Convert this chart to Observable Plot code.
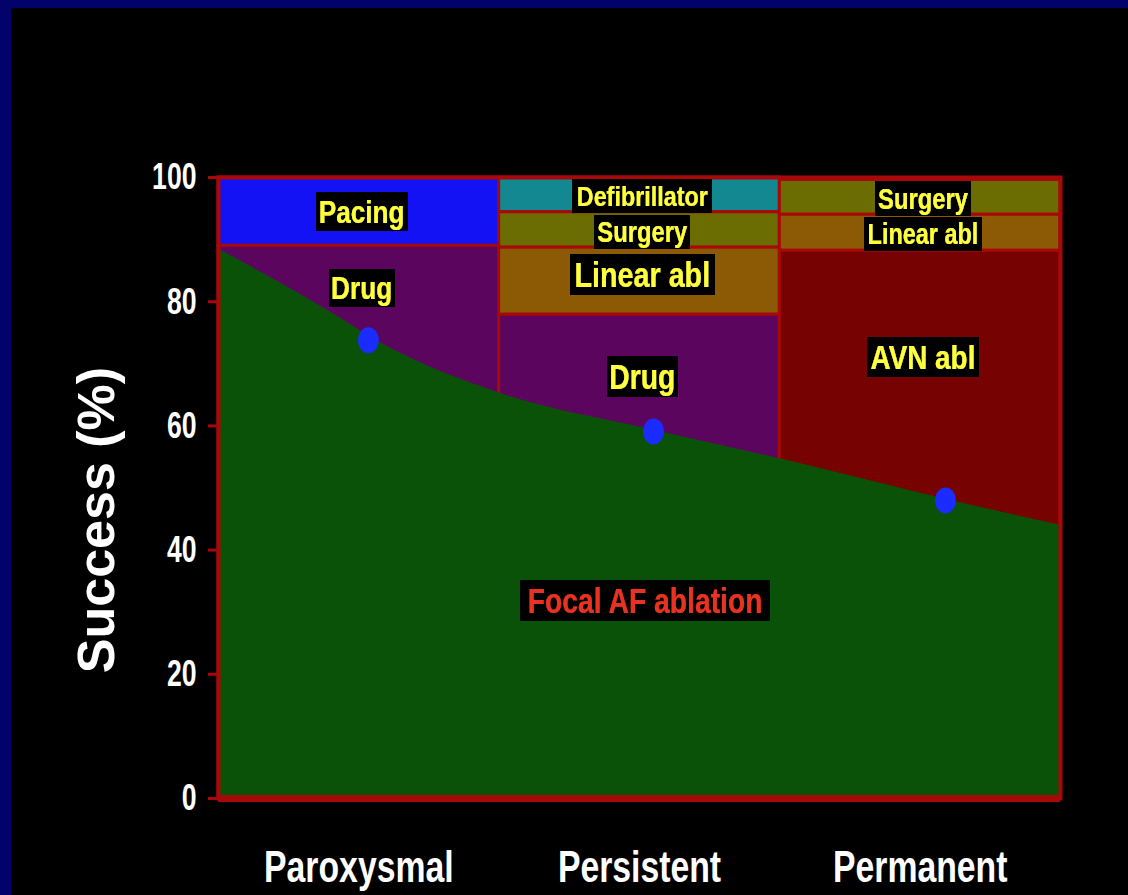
<!DOCTYPE html>
<html>
<head>
<meta charset="utf-8">
<script src="https://cdn.jsdelivr.net/npm/d3@7"></script>
<script src="https://cdn.jsdelivr.net/npm/@observablehq/plot@0.6"></script>
<style>
  html, body { margin: 0; padding: 0; background: #02026a; width: 1128px; height: 895px; overflow: hidden; }
  #chart { position: absolute; left: 11px; top: 8px; width: 1117px; height: 887px; background: #000; }
  #chart svg { display: block; }
</style>
</head>
<body>
<div id="chart"></div>
<script>
// ---- data ----
const categories = ["Paroxysmal", "Persistent", "Permanent"];
const yTicks = [0, 20, 40, 60, 80, 100];

// stacked treatment blocks (column, name, low %, high %)
const blockColumn = ["Paroxysmal", "Paroxysmal", "Persistent", "Persistent", "Persistent", "Persistent", "Permanent", "Permanent", "Permanent"];
const blockName   = ["Pacing", "Drug", "Defibrillator", "Surgery", "Linear abl", "Drug", "Surgery", "Linear abl", "AVN abl"];
const blockLow    = [89, 0, 94.4, 88.7, 77.9, 0, 94, 88.2, 0];
const blockHigh   = [100, 89, 100, 94.4, 88.7, 77.9, 99.6, 94, 88.2];

// focal AF ablation success curve (x in category units, y in %)
const curveX = [0, 0.4, 0.58, 1, 1.55, 2.02, 2.59, 3];
const curveY = [88.5, 78.3, 73.3, 65.3, 59.3, 54.5, 48.2, 44];

// blue markers on the curve
const dotX = [0.534, 1.55, 2.59];
const dotY = [73.8, 59.1, 48.0];

// block labels
const labelText = ["Pacing", "Drug", "Defibrillator", "Surgery", "Linear abl", "Drug", "Surgery", "Linear abl", "AVN abl"];
const labelX    = [0.51, 0.51, 1.51, 1.51, 1.51, 1.51, 2.51, 2.51, 2.51];
const labelY    = [94.4, 82.1, 96.9, 91.1, 84.2, 67.8, 96.5, 90.8, 70.9];
const mainLabel = "Focal AF ablation";
const mainLabelX = 1.52;
const mainLabelY = 31.7;

const yLabel = "Success (%)";

// ---- styles ----
const blockColors = {
  "Pacing": "#1212f5",
  "Drug": "#5c055e",
  "Defibrillator": "#138890",
  "Surgery": "#6b6c02",
  "Linear abl": "#8c5a04",
  "AVN abl": "#760202"
};
const labelSizes = [32, 32, 28.5, 29, 35, 34.5, 29, 28.6, 34];
const FONT = "'Liberation Sans', Arial, sans-serif";
const BORDER = "#a80808";

// tall ellipse symbol for the markers
const ellipse = {
  draw(ctx, size) {
    const r = Math.sqrt(size / Math.PI), rx = r * 0.8, ry = r, k = 0.5523;
    ctx.moveTo(rx, 0);
    ctx.bezierCurveTo(rx, ry * k, rx * k, ry, 0, ry);
    ctx.bezierCurveTo(-rx * k, ry, -rx, ry * k, -rx, 0);
    ctx.bezierCurveTo(-rx, -ry * k, -rx * k, -ry, 0, -ry);
    ctx.bezierCurveTo(rx * k, -ry, rx, -ry * k, rx, 0);
    ctx.closePath();
  }
};

const blocks = blockName.map((n, i) => ({
  col: categories.indexOf(blockColumn[i]),
  name: n, low: blockLow[i], high: blockHigh[i]
}));
const curve = curveX.map((x, i) => ({x, y: curveY[i]}));
const dots = dotX.map((x, i) => ({x, y: dotY[i]}));
const labels = labelText.map((t, i) => ({t, x: labelX[i], y: labelY[i], s: labelSizes[i]}));

const chart = Plot.plot({
  width: 1117,
  height: 887,
  marginLeft: 207,
  marginRight: 68,
  marginTop: 169,
  marginBottom: 97,
  style: { background: "#000", color: "#fff", fontFamily: FONT },
  x: { domain: [0, 3], axis: null },
  y: { domain: [0, 100], axis: null },
  marks: [
    Plot.rect(blocks, {
      x1: "col", x2: d => d.col + 1, y1: "low", y2: "high",
      fill: d => blockColors[d.name], stroke: BORDER, strokeWidth: 3
    }),
    Plot.areaY(curve, { x: "x", y: "y", fill: "#0b5209", curve: "monotone-x" }),
    Plot.dot(dots, { x: "x", y: "y", r: 13, symbol: ellipse, fill: "#1a2cff" }),
    Plot.frame({ stroke: BORDER, strokeWidth: 4 }),
    Plot.ruleY([0], { stroke: BORDER, strokeWidth: 7 }),
    Plot.axisY({
      ticks: yTicks, tickSize: 10, tickPadding: 12, stroke: BORDER, strokeWidth: 3,
      fill: "#fff", fontSize: 37, fontWeight: "bold", label: null
    }),
    Plot.axisX({
      ticks: [0.5, 1.5, 2.5], tickFormat: (d, i) => categories[i], tickSize: 0,
      tickPadding: 52, fill: "#fff", fontSize: 45, fontWeight: "bold", label: null
    }),
    Plot.text([yLabel], {
      frameAnchor: "left", textAnchor: "middle", text: d => d, rotate: -90, dx: -121, dy: 32,
      fill: "#fff", fontSize: 52, fontWeight: "bold"
    }),
    Plot.text(labels, {
      x: "x", y: "y", text: "t", fontSize: "s", fill: "#ffff3c", fontWeight: "bold"
    }),
    Plot.text([mainLabel], {
      x: () => mainLabelX, y: () => mainLabelY, text: d => d, fontSize: 34.5, fill: "#ea3222",
      fontWeight: "bold"
    })
  ]
});

document.getElementById("chart").appendChild(chart);

// black boxes behind in-chart labels via an SVG filter
const ns = "http://www.w3.org/2000/svg";
const defs = document.createElementNS(ns, "defs");
defs.innerHTML = '<filter id="txtbg" x="-0.03" y="-0.02" width="1.06" height="1.04"><feFlood flood-color="#000"/><feComposite in="SourceGraphic" operator="over"/></filter>';
chart.insertBefore(defs, chart.firstChild);
const boxed = new Set([...labelText, mainLabel]);
const tickSet = new Set(yTicks.map(String));
const catSet = new Set(categories);
chart.querySelectorAll("text").forEach(t => {
  const s = t.textContent;
  if (s === yLabel) return;
  // condensed (Arial Narrow-like) lettering
  const squeeze = tickSet.has(s) ? 0.72 : catSet.has(s) ? 0.75 : 0.82;
  const w = t.getComputedTextLength();
  t.setAttribute("textLength", (w * squeeze).toFixed(1));
  t.setAttribute("lengthAdjust", "spacingAndGlyphs");
  if (boxed.has(s)) t.setAttribute("filter", "url(#txtbg)");
});
</script>
</body>
</html>
